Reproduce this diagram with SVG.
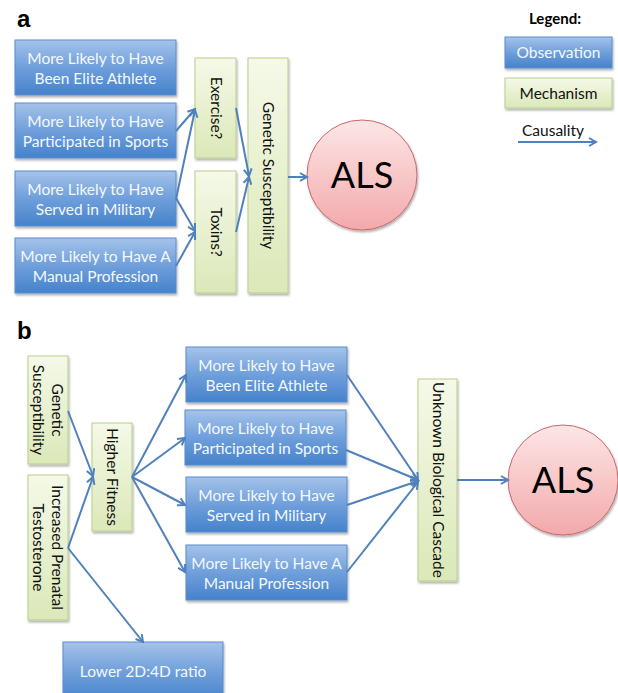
<svg xmlns="http://www.w3.org/2000/svg" width="618" height="693" viewBox="0 0 618 693">
<defs>
<linearGradient id="gb" x1="0" y1="0" x2="0" y2="1"><stop offset="0" stop-color="#a4c3ea"/><stop offset="0.5" stop-color="#6f9fdb"/><stop offset="1" stop-color="#4582cc"/></linearGradient>
<linearGradient id="gg" x1="0" y1="0" x2="0" y2="1"><stop offset="0" stop-color="#f5f9e8"/><stop offset="1" stop-color="#dbe8b8"/></linearGradient>
<linearGradient id="gp" x1="0" y1="0" x2="0" y2="1"><stop offset="0" stop-color="#fde6e6"/><stop offset="1" stop-color="#f3a9ab"/></linearGradient>
<filter id="sh" x="-10%" y="-10%" width="130%" height="130%"><feDropShadow dx="1" dy="2" stdDeviation="1.2" flood-color="#000" flood-opacity="0.3"/></filter>
<marker id="ar" markerWidth="10" markerHeight="10" refX="8" refY="5" orient="auto" markerUnits="userSpaceOnUse"><path d="M1,1 L8,5 L1,9" fill="none" stroke="#4f81bd" stroke-width="2"/></marker>
</defs>
<style>
.ob{fill:url(#gb);stroke:#5a8ccb;stroke-width:1;filter:url(#sh)}
.me{fill:url(#gg);stroke:#b9cf8c;stroke-width:1;filter:url(#sh)}
.al{fill:url(#gp);stroke:#c9676a;stroke-width:1;filter:url(#sh)}
.tw{font-family:Lato,"Liberation Sans",sans-serif;font-size:15.5px;fill:#f4f8fd;text-anchor:middle}
.tk{font-family:Lato,"Liberation Sans",sans-serif;font-size:15.5px;fill:#111;text-anchor:middle}
.big{font-family:Lato,"Liberation Sans",sans-serif;font-size:36px;fill:#000;text-anchor:middle}
.lab{font-family:"Liberation Sans",Arial,sans-serif;font-size:24px;font-weight:bold;fill:#000}
.c line{stroke:#4f81bd;stroke-width:2;marker-end:url(#ar)}
</style>
<text class="lab" x="17" y="27">a</text>
<text class="lab" x="17" y="339">b</text>

<g id="a-elite"><rect class="ob" x="15" y="40" width="161" height="55"/><text class="tw" x="95.5" y="64">More Likely to Have</text><text class="tw" x="95.5" y="84">Been Elite Athlete</text></g>
<g id="a-sports"><rect class="ob" x="15" y="103" width="161" height="55"/><text class="tw" x="95.5" y="127">More Likely to Have</text><text class="tw" x="95.5" y="147">Participated in Sports</text></g>
<g id="a-military"><rect class="ob" x="15" y="171" width="161" height="55"/><text class="tw" x="95.5" y="195">More Likely to Have</text><text class="tw" x="95.5" y="215">Served in Military</text></g>
<g id="a-manual"><rect class="ob" x="15" y="238" width="161" height="55"/><text class="tw" x="95.5" y="262">More Likely to Have A</text><text class="tw" x="95.5" y="282">Manual Profession</text></g>
<g id="a-exercise"><rect class="me" x="195" y="58" width="41" height="100"/><text class="tk" transform="translate(215.5,108) rotate(90)" dy="5">Exercise?</text></g>
<g id="a-toxins"><rect class="me" x="195" y="171" width="41" height="122"/><text class="tk" transform="translate(215.5,232) rotate(90)" dy="5">Toxins?</text></g>
<g id="a-genetic"><rect class="me" x="248" y="58" width="40" height="235"/><text class="tk" transform="translate(268,175.5) rotate(90)" dy="5">Genetic Susceptibility</text></g>
<g id="a-als"><circle class="al" cx="362" cy="175" r="55"/><text class="big" x="362" y="188">ALS</text></g>

<g id="legend">
<text x="555" y="24" style="font-family:Lato,'Liberation Sans',sans-serif;font-size:15px;font-weight:bold;text-anchor:middle;fill:#000">Legend:</text>
<rect class="ob" x="505" y="37" width="107" height="31"/><text class="tw" x="558.5" y="58">Observation</text>
<rect class="me" x="505" y="78" width="107" height="30"/><text class="tk" x="558.5" y="99">Mechanism</text>
<text class="tk" x="553" y="136">Causality</text>
<line x1="518" y1="142" x2="596" y2="142" stroke="#4f81bd" stroke-width="2" marker-end="url(#ar)"/>
</g>

<g id="b-genetic"><rect class="me" x="28" y="356" width="40" height="108"/><text class="tk" transform="translate(48,410) rotate(90)"><tspan x="0" y="-4">Genetic</tspan><tspan x="0" y="15">Susceptibility</tspan></text></g>
<g id="b-testosterone"><rect class="me" x="28" y="475" width="40" height="145"/><text class="tk" transform="translate(48,547.5) rotate(90)"><tspan x="0" y="-4">Increased Prenatal</tspan><tspan x="0" y="15">Testosterone</tspan></text></g>
<g id="b-fitness"><rect class="me" x="92" y="423" width="40" height="108"/><text class="tk" transform="translate(112,477) rotate(90)" dy="5">Higher Fitness</text></g>
<g id="b-elite"><rect class="ob" x="186" y="347" width="161" height="55"/><text class="tw" x="266.5" y="371">More Likely to Have</text><text class="tw" x="266.5" y="391">Been Elite Athlete</text></g>
<g id="b-sports"><rect class="ob" x="185" y="410" width="161" height="55"/><text class="tw" x="265.5" y="434">More Likely to Have</text><text class="tw" x="265.5" y="454">Participated in Sports</text></g>
<g id="b-military"><rect class="ob" x="186" y="477" width="161" height="55"/><text class="tw" x="266.5" y="501">More Likely to Have</text><text class="tw" x="266.5" y="521">Served in Military</text></g>
<g id="b-manual"><rect class="ob" x="186" y="545" width="161" height="55"/><text class="tw" x="266.5" y="569">More Likely to Have A</text><text class="tw" x="266.5" y="589">Manual Profession</text></g>
<g id="b-ratio"><rect class="ob" x="63" y="642" width="160" height="60"/><text class="tw" x="143" y="677">Lower 2D:4D ratio</text></g>
<g id="b-cascade"><rect class="me" x="418" y="379" width="39" height="202"/><text class="tk" transform="translate(437.5,480) rotate(90)" dy="5">Unknown Biological Cascade</text></g>
<g id="b-als"><circle class="al" cx="563" cy="480" r="55"/><text class="big" x="563" y="493">ALS</text></g>

<g id="connectors" class="c">
<line x1="176" y1="131" x2="195" y2="109"/>
<line x1="176" y1="199" x2="195" y2="110"/>
<line x1="176" y1="198" x2="195" y2="231"/>
<line x1="176" y1="266" x2="195" y2="232"/>
<line x1="236" y1="108" x2="249" y2="176"/>
<line x1="236" y1="232" x2="249" y2="177"/>
<line x1="288" y1="177" x2="307" y2="177"/>
<line x1="68" y1="411" x2="93" y2="476"/>
<line x1="68" y1="548" x2="93" y2="477"/>
<line x1="68" y1="548" x2="143" y2="642"/>
<line x1="132" y1="477" x2="186" y2="375"/>
<line x1="132" y1="477" x2="185" y2="438"/>
<line x1="132" y1="477" x2="185" y2="505"/>
<line x1="132" y1="477" x2="185" y2="572"/>
<line x1="347" y1="375" x2="418" y2="480"/>
<line x1="346" y1="450" x2="418" y2="480"/>
<line x1="347" y1="505" x2="418" y2="481"/>
<line x1="347" y1="572" x2="418" y2="482"/>
<line x1="457" y1="480" x2="508" y2="480"/>
</g>
</svg>
